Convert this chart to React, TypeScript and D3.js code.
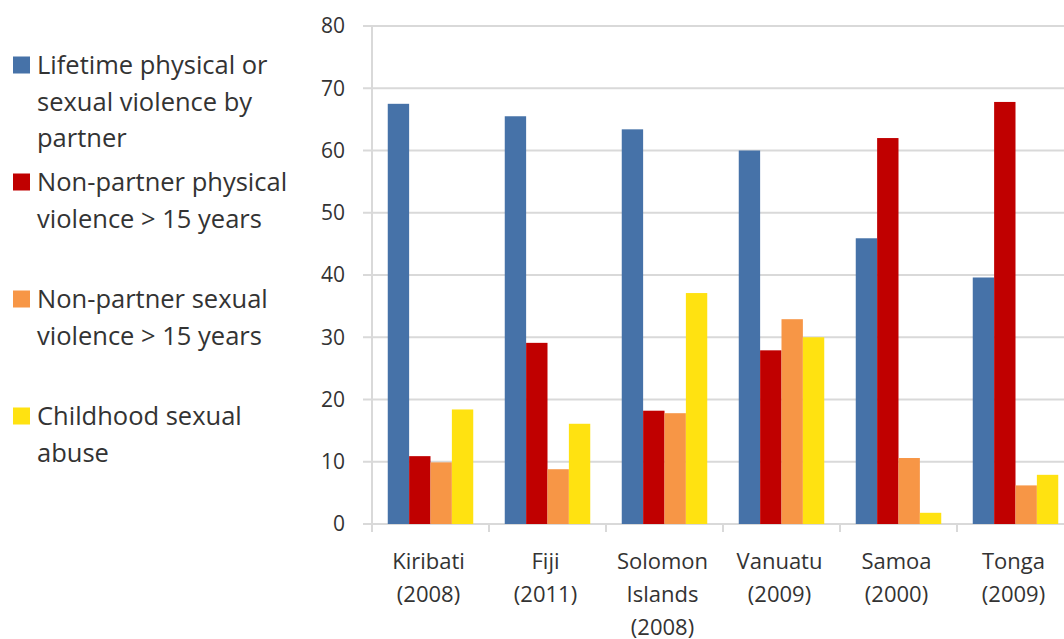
import { useEffect, useRef } from "react";
import * as d3 from "d3";

const categories = [
  ["Kiribati", "(2008)"],
  ["Fiji", "(2011)"],
  ["Solomon", "Islands", "(2008)"],
  ["Vanuatu", "(2009)"],
  ["Samoa", "(2000)"],
  ["Tonga", "(2009)"],
];

const seriesNames = [
  ["Lifetime physical or", "sexual violence by", "partner"],
  ["Non-partner physical", "violence > 15 years"],
  ["Non-partner sexual", "violence > 15 years"],
  ["Childhood sexual", "abuse"],
];

const seriesColors = ["#4672a8", "#c00000", "#f79646", "#ffe211"];

const lifetimePartner = [67.5, 65.5, 63.4, 60.0, 45.9, 39.6];
const nonPartnerPhysical = [10.9, 29.1, 18.2, 27.9, 62.0, 67.8];
const nonPartnerSexual = [9.9, 8.8, 17.8, 32.9, 10.6, 6.2];
const childhoodAbuse = [18.4, 16.1, 37.1, 30.0, 1.8, 7.9];

const yTicks = [0, 10, 20, 30, 40, 50, 60, 70, 80];

const W = 1064;
const H = 639;
const FONT = "'Open Sans', sans-serif";
const TEXT = "#333333";
const GRID = "#d9d9d9";

export default function App() {
  const ref = useRef<SVGSVGElement>(null);

  useEffect(() => {
    if (!ref.current) return;
    const svg = d3.select(ref.current);
    svg.selectAll("*").remove();

    const values = [lifetimePartner, nonPartnerPhysical, nonPartnerSexual, childhoodAbuse];
    const catKeys = categories.map((c) => c.join(" "));

    const y = d3.scaleLinear().domain([0, 80]).range([524, 26]);
    const x = d3.scaleBand<string>().domain(catKeys).range([372, 1074]).padding(0);
    const xs = d3
      .scaleBand<number>()
      .domain(d3.range(values.length))
      .range([0, x.bandwidth()])
      .paddingInner(0)
      .paddingOuter(0.737);

    // gridlines
    svg
      .append("g")
      .selectAll("line")
      .data(yTicks)
      .join("line")
      .attr("x1", 363)
      .attr("x2", W)
      .attr("y1", (d) => y(d))
      .attr("y2", (d) => y(d))
      .attr("stroke", GRID)
      .attr("stroke-width", 2);

    // y axis line
    svg
      .append("line")
      .attr("x1", 372)
      .attr("x2", 372)
      .attr("y1", y(80))
      .attr("y2", y(0) + 8)
      .attr("stroke", GRID)
      .attr("stroke-width", 2);

    // x tick marks
    svg
      .append("g")
      .selectAll("line")
      .data(catKeys)
      .join("line")
      .attr("x1", (d) => x(d)!)
      .attr("x2", (d) => x(d)!)
      .attr("y1", y(0))
      .attr("y2", y(0) + 8)
      .attr("stroke", GRID)
      .attr("stroke-width", 2);

    // y tick labels
    svg
      .append("g")
      .selectAll("text")
      .data(yTicks)
      .join("text")
      .attr("x", 345)
      .attr("y", (d) => y(d))
      .attr("dy", "0.35em")
      .attr("text-anchor", "end")
      .attr("font-family", FONT)
      .attr("font-size", 21)
      .attr("fill", TEXT)
      .text((d) => d);

    // bars
    values.forEach((series, si) => {
      svg
        .append("g")
        .selectAll("rect")
        .data(series)
        .join("rect")
        .attr("x", (_, i) => x(catKeys[i])! + xs(si)!)
        .attr("y", (d) => y(d))
        .attr("width", xs.bandwidth())
        .attr("height", (d) => y(0) - y(d))
        .attr("fill", seriesColors[si]);
    });

    // x labels
    const xl = svg
      .append("g")
      .selectAll("text")
      .data(categories)
      .join("text")
      .attr("text-anchor", "middle")
      .attr("font-family", FONT)
      .attr("font-size", 22)
      .attr("fill", TEXT)
      .attr("transform", (_, i) => `translate(${x(catKeys[i])! + x.bandwidth() / 2 - 2},0)`);
    xl.selectAll("tspan")
      .data((d) => d)
      .join("tspan")
      .attr("x", 0)
      .attr("y", (_, j) => 561 + j * 33)
      .attr("dy", "0.35em")
      .text((d) => d);

    // legend
    const leg = svg
      .append("g")
      .selectAll("g")
      .data(seriesNames)
      .join("g")
      .attr("transform", (_, i) => `translate(0,${65 + i * 117})`);
    leg
      .append("rect")
      .attr("x", 13)
      .attr("y", -8.5)
      .attr("width", 17)
      .attr("height", 17)
      .attr("fill", (_, i) => seriesColors[i]);
    leg
      .append("text")
      .attr("font-family", FONT)
      .attr("font-size", 25.5)
      .attr("fill", TEXT)
      .selectAll("tspan")
      .data((d) => d)
      .join("tspan")
      .attr("x", 37)
      .attr("y", (_, j) => j * 36.7)
      .attr("dy", "0.35em")
      .text((d) => d);
  }, []);

  return (
    <svg
      ref={ref}
      width={W}
      height={H}
      style={{ position: "absolute", left: 0, top: 0, background: "#fff" }}
    />
  );
}
